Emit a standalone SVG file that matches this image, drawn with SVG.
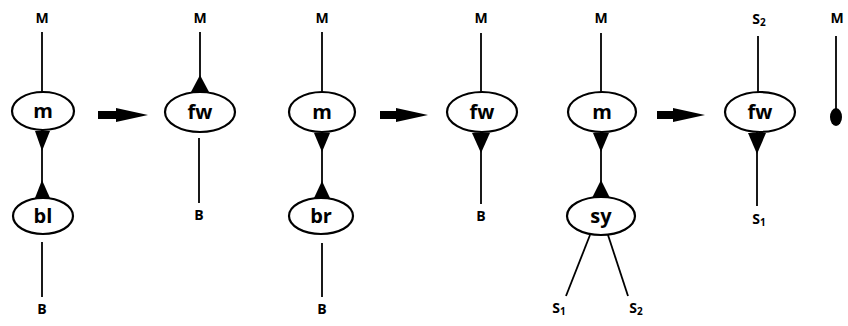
<svg xmlns="http://www.w3.org/2000/svg" width="848" height="326" viewBox="0 0 848 326">
<style>
.nd{fill:#fff;stroke:#000;stroke-width:2.2}
.ln{stroke:#000;stroke-width:1.8;fill:none}
.tri{fill:#000}
.lb{font-family:"Open Sans","DejaVu Sans",sans-serif;font-weight:700;font-size:20px;text-anchor:middle;fill:#000}
.tm{font-family:"Open Sans","DejaVu Sans",sans-serif;font-weight:700;font-size:14px;text-anchor:middle;fill:#000}
.sub{font-size:10px}
</style>
<rect width="848" height="326" fill="#fff"/>
<g id="connectors">
  <line class="ln" x1="42" y1="32" x2="42" y2="92"/>
  <line class="ln" x1="42" y1="130" x2="42" y2="197"/>
  <polygon class="tri" points="35,131 50,131 42,151"/>
  <polygon class="tri" points="35,198 50,198 42,180"/>
  <line class="ln" x1="42" y1="242" x2="42" y2="297"/>
  <path class="tri" d="M98,111 L116,111 L116,108 L148,115 L116,122 L116,119 L98,119 Z"/>
  <line class="ln" x1="200" y1="32" x2="200" y2="92"/>
  <polygon class="tri" points="191,92 209,92 200,75"/>
  <line class="ln" x1="199" y1="138" x2="199" y2="203"/>
  <line class="ln" x1="322" y1="32" x2="322" y2="92"/>
  <line class="ln" x1="322" y1="132" x2="322" y2="198"/>
  <polygon class="tri" points="314,133 330,133 322,152"/>
  <polygon class="tri" points="314,198 330,198 322,181"/>
  <line class="ln" x1="322" y1="243" x2="322" y2="297"/>
  <path class="tri" d="M380,111 L396,111 L396,108 L428,115 L396,122 L396,119 L380,119 Z"/>
  <line class="ln" x1="481" y1="33" x2="481" y2="92"/>
  <line class="ln" x1="481" y1="132" x2="481" y2="204"/>
  <polygon class="tri" points="472,133 490,133 481,153"/>
  <line class="ln" x1="601" y1="33" x2="601" y2="92"/>
  <line class="ln" x1="601" y1="132" x2="601" y2="197"/>
  <polygon class="tri" points="593,133 609,133 601,152"/>
  <polygon class="tri" points="592,198 610,198 601,180"/>
  <line class="ln" x1="590" y1="235" x2="566" y2="296"/>
  <line class="ln" x1="608" y1="235" x2="628" y2="296"/>
  <path class="tri" d="M657,111 L673,111 L673,108 L705,115 L673,122 L673,119 L657,119 Z"/>
  <line class="ln" x1="758" y1="36" x2="758" y2="92"/>
  <line class="ln" x1="757" y1="132" x2="757" y2="206"/>
  <polygon class="tri" points="748,133 766,133 757,154"/>
  <line class="ln" x1="836" y1="36" x2="836" y2="110"/>
  <ellipse class="tri" cx="836" cy="117" rx="6" ry="9"/>
</g>
<g id="n-m1"><ellipse class="nd" cx="43" cy="111" rx="31" ry="19"/><text class="lb" x="43" y="118">m</text></g>
<g id="n-bl"><ellipse class="nd" cx="43" cy="216" rx="30" ry="18"/><text class="lb" x="43" y="223">bl</text></g>
<g id="n-fw1"><ellipse class="nd" cx="200" cy="112" rx="35" ry="20"/><text class="lb" x="200" y="119">fw</text></g>
<g id="n-m2"><ellipse class="nd" cx="322" cy="112" rx="33" ry="20"/><text class="lb" x="322" y="119">m</text></g>
<g id="n-br"><ellipse class="nd" cx="321" cy="216" rx="32" ry="18"/><text class="lb" x="321" y="223">br</text></g>
<g id="n-fw2"><ellipse class="nd" cx="482" cy="112" rx="35" ry="20"/><text class="lb" x="482" y="119">fw</text></g>
<g id="n-m3"><ellipse class="nd" cx="602" cy="112" rx="34" ry="20"/><text class="lb" x="602" y="119">m</text></g>
<g id="n-sy"><ellipse class="nd" cx="601" cy="216" rx="34" ry="19"/><text class="lb" x="601" y="223">sy</text></g>
<g id="n-fw3"><ellipse class="nd" cx="760" cy="112" rx="35" ry="20"/><text class="lb" x="760" y="119">fw</text></g>
<g id="terminals">
  <text class="tm" x="42" y="23">M</text>
  <text class="tm" x="42" y="314">B</text>
  <text class="tm" x="200" y="23">M</text>
  <text class="tm" x="199" y="220">B</text>
  <text class="tm" x="322" y="23">M</text>
  <text class="tm" x="322" y="314">B</text>
  <text class="tm" x="481" y="23">M</text>
  <text class="tm" x="481" y="221">B</text>
  <text class="tm" x="601" y="23">M</text>
  <text class="tm" x="559" y="313">S<tspan class="sub" dy="2">1</tspan></text>
  <text class="tm" x="636" y="313">S<tspan class="sub" dy="2">2</tspan></text>
  <text class="tm" x="759" y="24">S<tspan class="sub" dy="2">2</tspan></text>
  <text class="tm" x="759" y="224">S<tspan class="sub" dy="2">1</tspan></text>
  <text class="tm" x="837" y="23">M</text>
</g>
</svg>
